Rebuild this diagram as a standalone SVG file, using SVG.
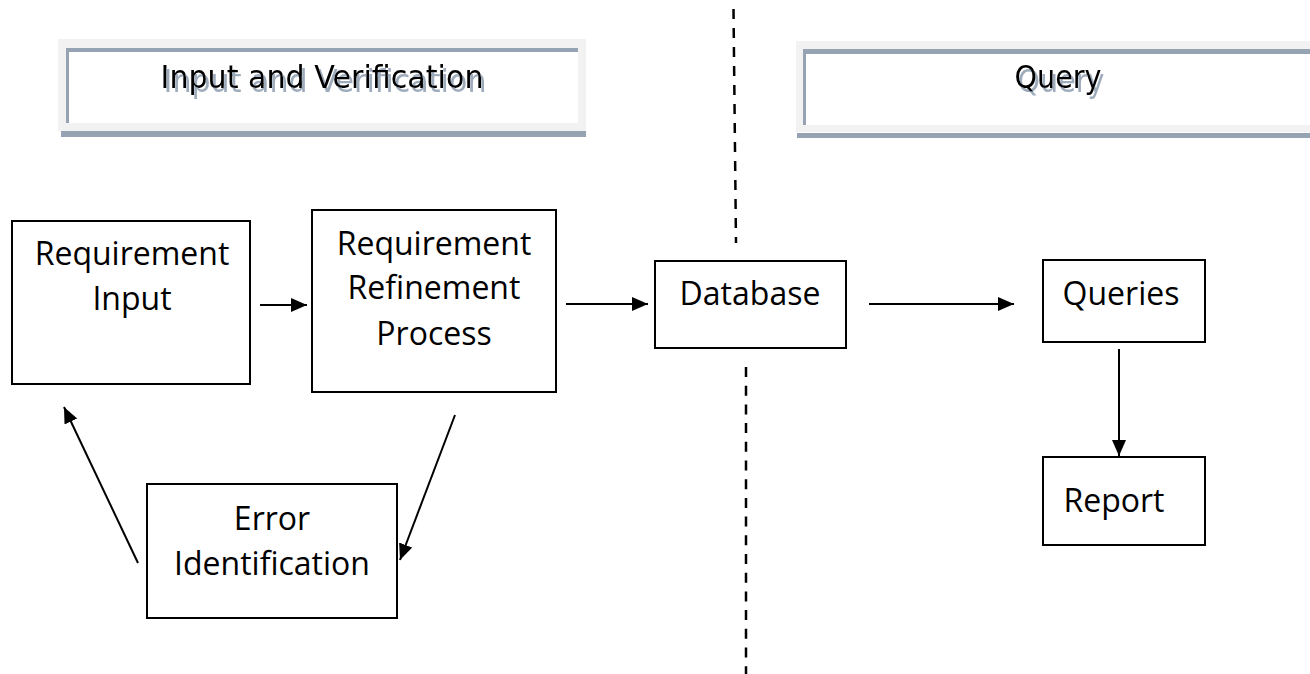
<svg xmlns="http://www.w3.org/2000/svg" width="1310" height="674" viewBox="0 0 1310 674">
  <style>
    .box { fill: #ffffff; stroke: #000000; stroke-width: 2; }
    .lbl { font-family: "Open Sans", "Liberation Sans", sans-serif; font-size: 32px; fill: #000000; text-anchor: middle; }
    .hdr { font-family: "DejaVu Sans", "Liberation Sans", sans-serif; font-size: 32px; fill: #000000; text-anchor: middle; filter: url(#textShadow); }
    .frame { fill: #f2f2f2; }
    .edge { fill: #95a3b3; }
    .conn { stroke: #000000; stroke-width: 2; fill: none; marker-end: url(#head); }
    .divider { stroke: #000000; stroke-width: 2.5; fill: none; }
  </style>
  <defs>
    <marker id="head" markerUnits="userSpaceOnUse" markerWidth="18" markerHeight="16" refX="16" refY="7" orient="auto">
      <path d="M0,0 L16,7 L0,14 Z" fill="#000000"/>
    </marker>
    <!-- soft blue-grey offset copy behind header titles -->
    <filter id="textShadow" x="-10%" y="-30%" width="120%" height="170%">
      <feOffset in="SourceAlpha" dx="3" dy="4" result="off"/>
      <feFlood flood-color="#9eabbb"/>
      <feComposite in2="off" operator="in" result="shadow"/>
      <feMerge>
        <feMergeNode in="shadow"/>
        <feMergeNode in="SourceGraphic"/>
      </feMerge>
    </filter>
  </defs>

  <rect width="1310" height="674" fill="#ffffff"/>

  <!-- section dividers -->
  <g id="dividers">
    <line class="divider" x1="733.5" y1="9" x2="736" y2="243" stroke-dasharray="10 9"/>
    <line class="divider" x1="746" y1="367" x2="746" y2="674" stroke-dasharray="10 8.7"/>
  </g>

  <!-- section header: Input and Verification -->
  <g id="header-input">
    <rect class="frame" x="58" y="39" width="528" height="92"/>
    <rect class="edge" x="66" y="48" width="512" height="4"/>
    <rect class="edge" x="66" y="48" width="3" height="75"/>
    <rect fill="#ffffff" x="69" y="52" width="509" height="71"/>
    <rect class="edge" x="61" y="131" width="525" height="6"/>
    <text class="hdr" x="322" y="88" textLength="323" lengthAdjust="spacingAndGlyphs">Input and Verification</text>
  </g>

  <!-- section header: Query -->
  <g id="header-query">
    <rect class="frame" x="796" y="41" width="514" height="91"/>
    <rect class="edge" x="803" y="49" width="507" height="5"/>
    <rect class="edge" x="803" y="49" width="3" height="76"/>
    <rect fill="#ffffff" x="806" y="54" width="504" height="71"/>
    <rect class="edge" x="797" y="133" width="513" height="5"/>
    <text class="hdr" x="1058" y="88" textLength="87" lengthAdjust="spacingAndGlyphs">Query</text>
  </g>

  <g id="requirement-input">
    <rect class="box" x="12" y="221" width="238" height="163"/>
    <text class="lbl" x="132" y="265">Requirement</text>
    <text class="lbl" x="132" y="310">Input</text>
  </g>

  <g id="requirement-refinement">
    <rect class="box" x="312" y="210" width="244" height="182"/>
    <text class="lbl" x="434" y="255">Requirement</text>
    <text class="lbl" x="434" y="299">Refinement</text>
    <text class="lbl" x="434" y="345">Process</text>
  </g>

  <g id="error-identification">
    <rect class="box" x="147" y="484" width="250" height="134"/>
    <text class="lbl" x="272" y="530">Error</text>
    <text class="lbl" x="272" y="575">Identification</text>
  </g>

  <g id="database">
    <rect class="box" x="655" y="261" width="191" height="87"/>
    <text class="lbl" x="750" y="305">Database</text>
  </g>

  <g id="queries">
    <rect class="box" x="1043" y="260" width="162" height="82"/>
    <text class="lbl" x="1121" y="305">Queries</text>
  </g>

  <g id="report">
    <rect class="box" x="1043" y="457" width="162" height="88"/>
    <text class="lbl" x="1114" y="512">Report</text>
  </g>

  <g id="connectors">
    <line class="conn" x1="260" y1="305" x2="307" y2="305"/>
    <line class="conn" x1="566" y1="304" x2="648" y2="304"/>
    <line class="conn" x1="869" y1="304" x2="1014" y2="304"/>
    <line class="conn" x1="1119" y1="349" x2="1119" y2="456"/>
    <line class="conn" x1="455" y1="415" x2="400" y2="560"/>
    <line class="conn" x1="138" y1="563" x2="64" y2="407"/>
  </g>
</svg>
